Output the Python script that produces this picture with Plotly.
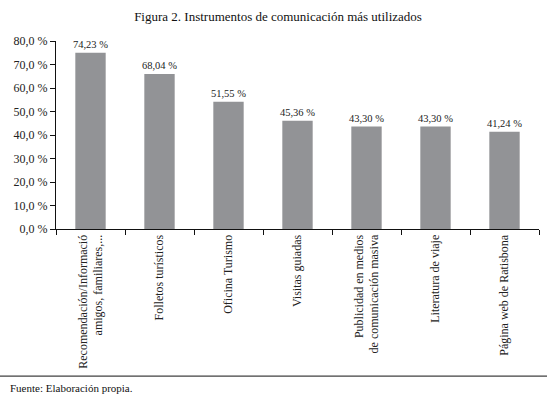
import plotly.graph_objects as go

# ---- data ----
categories = [
    "Recomendación/Informació<br>amigos, familiares,...",
    "Folletos turísticos",
    "Oficina Turismo",
    "Visitas guiadas",
    "Publicidad en medios<br>de comunicación masiva",
    "Literatura de viaje",
    "Página web de Ratisbona",
]
bar_heights = [75.0, 66.0, 54.2, 46.1, 43.6, 43.6, 41.4]   # as drawn
label_values = [74.23, 68.04, 51.55, 45.36, 43.30, 43.30, 41.24]  # as printed
y_ticks = [0, 10, 20, 30, 40, 50, 60, 70, 80]

title_text = "Figura 2. Instrumentos de comunicación más utilizados"
source_text = "Fuente: Elaboración propia."

W, H = 555, 396
L, R_EDGE = 56, 539       # plot area x in px
TOP, BOT = 41, 229.5      # plot area y in px

def px_x(px):
    return (px - L) / (R_EDGE - L)

def px_y(py):
    return (BOT - py) / (BOT - TOP)

def pct(v, d):
    return f"{v:.{d}f}".replace(".", ",") + " %"

labels = [pct(v, 2) for v in label_values]
y_ticktext = [pct(v, 1) for v in y_ticks]

serif = "Liberation Serif, Times New Roman, serif"

fig = go.Figure(
    go.Bar(
        x=categories,
        y=bar_heights,
        text=labels,
        textposition="outside",
        constraintext="none",
        textfont=dict(family=serif, size=10.5, color="#222222"),
        marker=dict(color="#929396", line=dict(width=0)),
        cliponaxis=False,
        hoverinfo="skip",
    )
)

fig.update_layout(
    width=W,
    height=H,
    margin=dict(l=L, r=W - R_EDGE, t=TOP, b=H - BOT, pad=0, autoexpand=False),
    paper_bgcolor="white",
    plot_bgcolor="white",
    bargap=0.56,
    showlegend=False,
    title=dict(
        text=title_text,
        x=278 / W,
        xanchor="center",
        y=1 - 16 / H,
        yanchor="middle",
        yref="container",
        font=dict(family=serif, size=13, color="#111111"),
    ),
    font=dict(family=serif, color="#111111"),
)

fig.update_xaxes(
    type="category",
    range=[-0.5, len(categories) - 0.5],
    automargin=False,
    showline=True,
    linecolor="#111111",
    linewidth=1,
    ticks="outside",
    tickson="boundaries",
    ticklen=5,
    tickcolor="#111111",
    tickangle=-90,
    tickfont=dict(family=serif, size=12, color="#222222"),
    showgrid=False,
    zeroline=False,
)

fig.update_yaxes(
    range=[0, 80],
    automargin=False,
    tickmode="array",
    tickvals=y_ticks,
    ticktext=y_ticktext,
    showline=True,
    linecolor="#111111",
    linewidth=1,
    ticks="outside",
    ticklen=5,
    tickcolor="#111111",
    tickfont=dict(family=serif, size=12, color="#222222"),
    showgrid=False,
    zeroline=False,
)

# horizontal rule above the source note
fig.add_shape(
    type="line",
    xref="paper", yref="paper",
    x0=px_x(0), x1=px_x(547),
    y0=px_y(377), y1=px_y(377),
    line=dict(color="#111111", width=1),
)

fig.add_annotation(
    text=source_text,
    xref="paper", yref="paper",
    x=px_x(8), y=px_y(389),
    xanchor="left", yanchor="middle",
    showarrow=False,
    font=dict(family=serif, size=11, color="#111111"),
)

fig.write_html(
    "out.html",
    config={"displayModeBar": False},
    post_script="document.body.style.margin='0';document.body.style.padding='0';",
)
